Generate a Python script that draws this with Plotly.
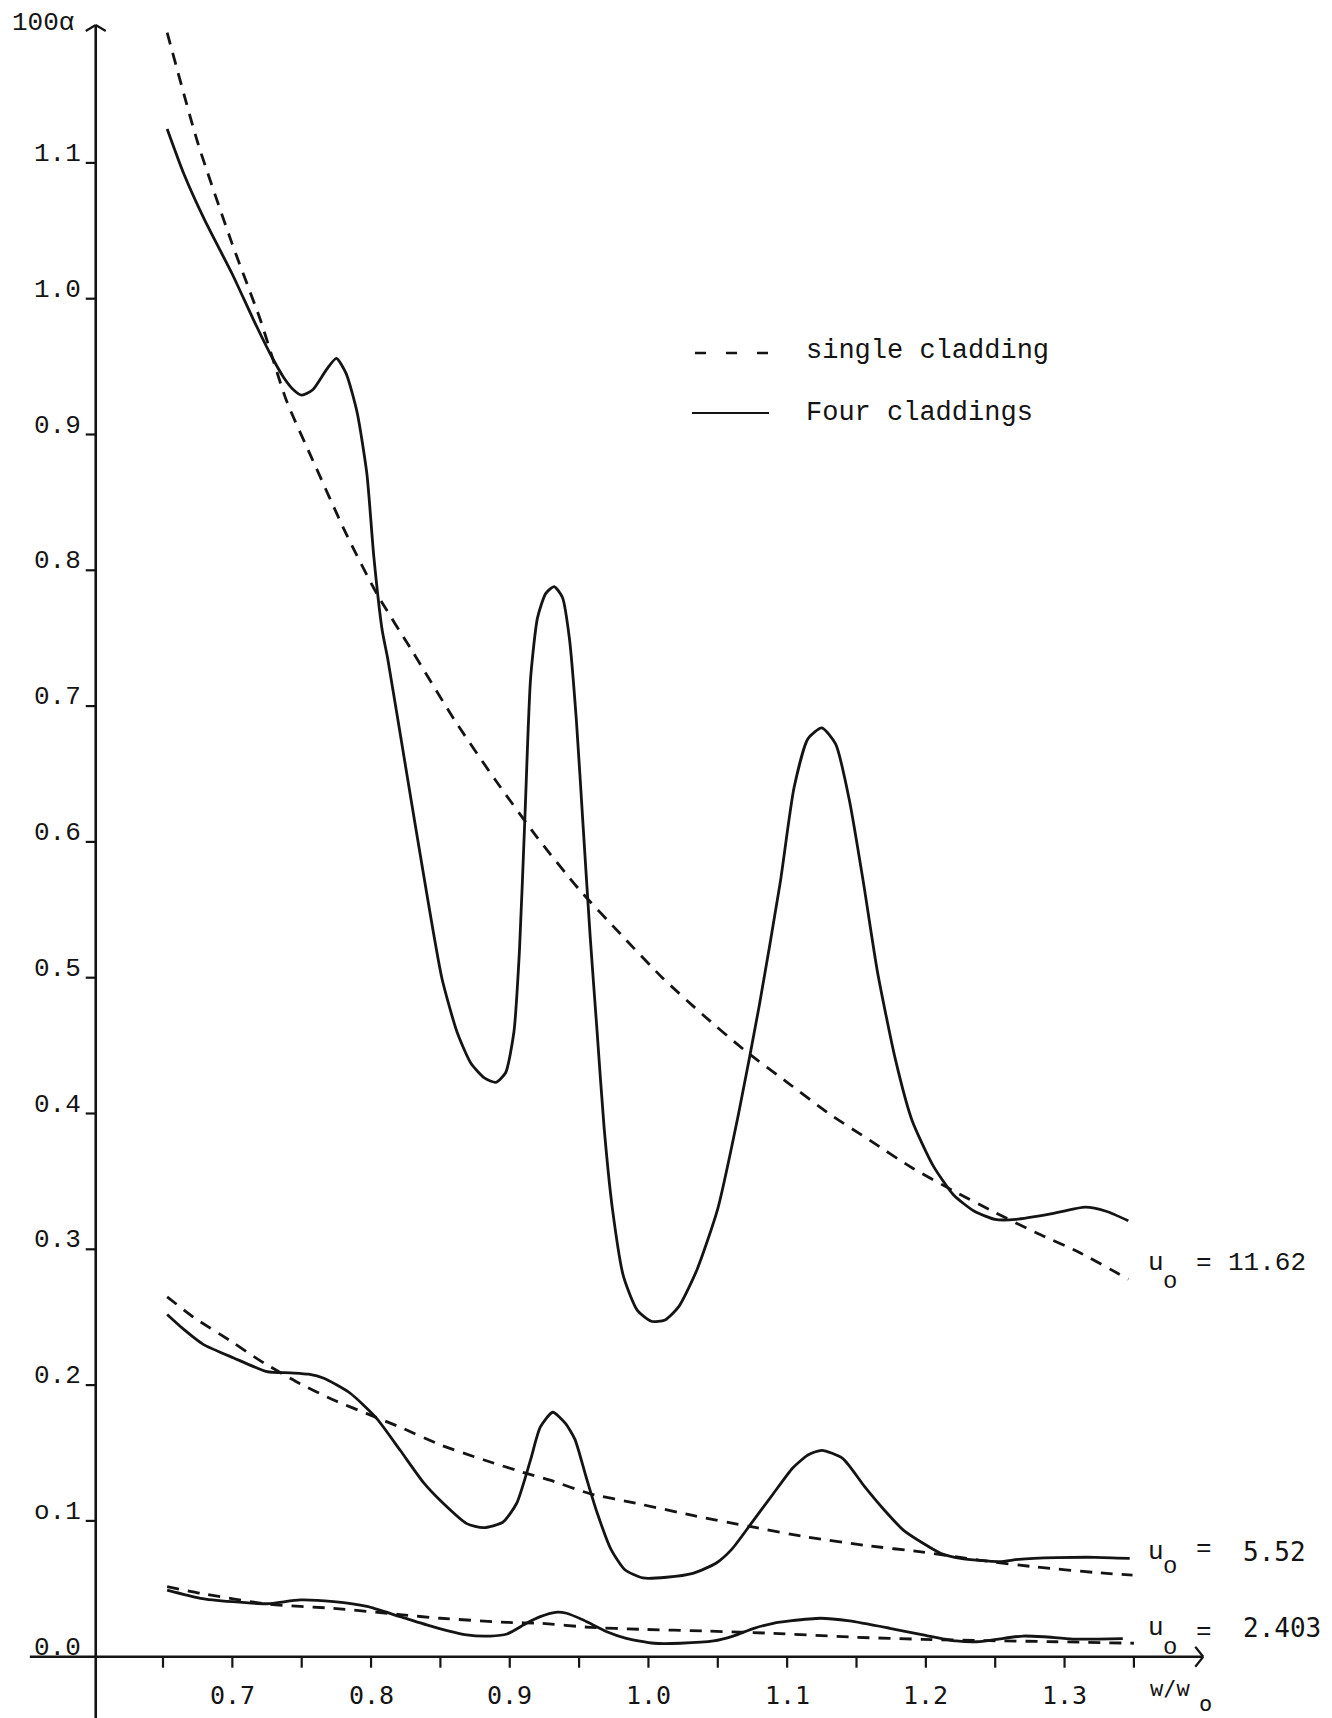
import plotly.graph_objects as go

W, H = 1332, 1718

# ---- data: 100*alpha against w/w0 -------------------------------------
# u0 = 11.62, single cladding
hi_single_x = [0.653, 0.675, 0.700, 0.720, 0.739, 0.758, 0.782, 0.804, 0.830, 0.860,
               0.890, 0.920, 0.950, 0.980, 1.010, 1.040, 1.070, 1.100, 1.130, 1.160,
               1.190, 1.220, 1.250, 1.280, 1.310, 1.346]
hi_single_y = [1.196, 1.115, 1.040, 0.985, 0.925, 0.881, 0.827, 0.783, 0.740, 0.690,
               0.645, 0.603, 0.565, 0.532, 0.500, 0.472, 0.446, 0.423, 0.400, 0.380,
               0.360, 0.343, 0.327, 0.312, 0.298, 0.278]

# u0 = 11.62, four claddings
hi_four_x = [0.653, 0.665, 0.680, 0.700, 0.715, 0.727, 0.737, 0.744, 0.750, 0.758,
             0.768, 0.775, 0.782, 0.790, 0.797, 0.802, 0.808, 0.812, 0.825, 0.838,
             0.851, 0.862, 0.872, 0.882, 0.890, 0.897, 0.903, 0.907, 0.911, 0.915,
             0.920, 0.926, 0.932, 0.938, 0.943, 0.948, 0.953, 0.958, 0.963, 0.968,
             0.974, 0.982, 0.992, 1.002, 1.012, 1.022, 1.035, 1.050, 1.065, 1.080,
             1.095, 1.105, 1.115, 1.125, 1.135, 1.145, 1.155, 1.165, 1.178, 1.190,
             1.205, 1.220, 1.235, 1.250, 1.265, 1.290, 1.315, 1.330, 1.346]
hi_four_y = [1.125, 1.092, 1.058, 1.018, 0.985, 0.960, 0.942, 0.933, 0.929, 0.933,
             0.948, 0.956, 0.945, 0.916, 0.871, 0.810, 0.756, 0.735, 0.655, 0.575,
             0.500, 0.460, 0.437, 0.426, 0.423, 0.430, 0.460, 0.520, 0.620, 0.720,
             0.765, 0.783, 0.788, 0.780, 0.750, 0.690, 0.610, 0.530, 0.460, 0.390,
             0.330, 0.280, 0.255, 0.247, 0.248, 0.258, 0.285, 0.330, 0.400, 0.480,
             0.570, 0.640, 0.676, 0.684, 0.672, 0.630, 0.570, 0.505, 0.440, 0.395,
             0.362, 0.340, 0.328, 0.322, 0.322, 0.326, 0.331, 0.328, 0.321]

# u0 = 5.52, single cladding
mid_single_x = [0.653, 0.672, 0.701, 0.720, 0.749, 0.773, 0.797, 0.821, 0.850, 0.881,
                0.912, 0.929, 0.958, 0.991, 1.032, 1.074, 1.115, 1.156, 1.198, 1.239,
                1.280, 1.322, 1.349]
mid_single_y = [0.265, 0.250, 0.231, 0.218, 0.201, 0.189, 0.179, 0.169, 0.156, 0.145,
                0.135, 0.130, 0.120, 0.113, 0.104, 0.0957, 0.088, 0.082, 0.077, 0.071,
                0.066, 0.062, 0.060]

# u0 = 5.52, four claddings
mid_four_x = [0.653, 0.665, 0.679, 0.701, 0.725, 0.742, 0.755, 0.766, 0.785, 0.804,
              0.821, 0.838, 0.852, 0.869, 0.881, 0.895, 0.905, 0.915, 0.922, 0.931,
              0.940, 0.947, 0.955, 0.963, 0.973, 0.983, 0.996, 1.013, 1.032, 1.049,
              1.060, 1.074, 1.090, 1.104, 1.115, 1.125, 1.140, 1.156, 1.170, 1.184,
              1.198, 1.211, 1.225, 1.253, 1.267, 1.294, 1.322, 1.347]
mid_four_y = [0.252, 0.241, 0.230, 0.220, 0.210, 0.209, 0.208, 0.205, 0.194, 0.1755,
              0.152, 0.128, 0.113, 0.098, 0.095, 0.099, 0.113, 0.145, 0.169, 0.180,
              0.172, 0.160, 0.1325, 0.106, 0.079, 0.064, 0.058, 0.0585, 0.0614, 0.069,
              0.079, 0.098, 0.120, 0.139, 0.1485, 0.152, 0.146, 0.125, 0.108, 0.093,
              0.0835, 0.076, 0.0724, 0.070, 0.0717, 0.0729, 0.0732, 0.0724]

# u0 = 2.403, single cladding
lo_single_x = [0.653, 0.677, 0.725, 0.773, 0.821, 0.850, 0.898, 0.922, 0.958, 0.994,
               1.042, 1.090, 1.150, 1.198, 1.246, 1.294, 1.350]
lo_single_y = [0.0516, 0.0467, 0.0388, 0.0356, 0.031, 0.0283, 0.0253, 0.0246, 0.0216, 0.0202,
               0.0189, 0.0172, 0.0143, 0.0128, 0.0118, 0.011, 0.0099]

# u0 = 2.403, four claddings
lo_four_x = [0.653, 0.677, 0.700, 0.725, 0.749, 0.773, 0.797, 0.821, 0.845, 0.869,
             0.886, 0.898, 0.912, 0.922, 0.933, 0.941, 0.953, 0.970, 0.984, 1.004,
             1.023, 1.047, 1.061, 1.076, 1.090, 1.102, 1.124, 1.145, 1.174, 1.198,
             1.222, 1.237, 1.251, 1.270, 1.285, 1.306, 1.342]
lo_four_y = [0.049, 0.043, 0.0405, 0.039, 0.0418, 0.0405, 0.037, 0.0295, 0.022, 0.016,
             0.0152, 0.0167, 0.0246, 0.0295, 0.0327, 0.032, 0.027, 0.0184, 0.0135, 0.0099,
             0.0099, 0.0116, 0.0152, 0.0209, 0.0246, 0.0263, 0.0283, 0.0263, 0.0209, 0.016,
             0.0116, 0.011, 0.0128, 0.0152, 0.0147, 0.013, 0.0133]

# ---- axes / labels -----------------------------------------------------
x_ticks = [0.65, 0.70, 0.75, 0.80, 0.85, 0.90, 0.95, 1.00, 1.05, 1.10, 1.15, 1.20,
           1.25, 1.30, 1.35]
x_label_vals = [0.7, 0.8, 0.9, 1.0, 1.1, 1.2, 1.3]
x_label_text = ["0.7", "0.8", "0.9", "1.0", "1.1", "1.2", "1.3"]
y_ticks = [0.1, 0.2, 0.3, 0.4, 0.5, 0.6, 0.7, 0.8, 0.9, 1.0, 1.1]
y_label_vals = [0.0, 0.1, 0.2, 0.3, 0.4, 0.5, 0.6, 0.7, 0.8, 0.9, 1.0, 1.1]
y_label_text = ["0.0", "o.1", "0.2", "0.3", "0.4", "0.5", "0.6", "0.7", "0.8", "0.9",
                "1.0", "1.1"]
u0_values = ["11.62", "5.52", "2.403"]

AXIS_X = 0.6015          # where the vertical axis crosses w/w0
Y_AXIS_TOP = 1.2015
X_AXIS_LEFT, X_AXIS_RIGHT = 0.554, 1.400

# pixel frame of the drawing
X0_PIX, X0_VAL, X_SCALE = 163.0, 0.65, 1387.0
Y0_PIX, Y_SCALE = 1656.7, 1358.0
x_range = [X0_VAL - X0_PIX / X_SCALE, X0_VAL + (W - X0_PIX) / X_SCALE]
y_range = [(Y0_PIX - H) / Y_SCALE, Y0_PIX / Y_SCALE]

def dx(p):
    return p / X_SCALE

def dy(p):
    return p / Y_SCALE

def px(p):
    return p / W

def py(p):
    return 1 - p / H

INK = "#141414"
TYPE = "Liberation Mono, Courier New, monospace"
STENCIL = "DejaVu Sans Mono, monospace"
DASH = "12px,9px"

fig = go.Figure()

def curve(xs, ys, dashed):
    fig.add_trace(go.Scatter(
        x=xs, y=ys, mode="lines",
        line=dict(color=INK, width=2.8, dash=DASH if dashed else "solid",
                  shape="spline", smoothing=0.6),
        hoverinfo="skip", showlegend=False))

curve(hi_single_x, hi_single_y, True)
curve(hi_four_x, hi_four_y, False)
curve(mid_single_x, mid_single_y, True)
curve(mid_four_x, mid_four_y, False)
curve(lo_single_x, lo_single_y, True)
curve(lo_four_x, lo_four_y, False)

shapes = []

def seg(x0, y0, x1, y1, width=2.6, dash="solid", ref="data"):
    r = "x" if ref == "data" else "paper"
    s = "y" if ref == "data" else "paper"
    shapes.append(dict(type="line", xref=r, yref=s, x0=x0, y0=y0, x1=x1, y1=y1,
                       line=dict(color=INK, width=width, dash=dash)))

# vertical axis with open arrow head
seg(AXIS_X, y_range[0], AXIS_X, Y_AXIS_TOP)
seg(AXIS_X - dx(10), Y_AXIS_TOP - dy(6), AXIS_X, Y_AXIS_TOP, width=2.2)
seg(AXIS_X, Y_AXIS_TOP, AXIS_X + dx(10), Y_AXIS_TOP - dy(6), width=2.2)
# horizontal axis with arrow head
seg(X_AXIS_LEFT, 0, X_AXIS_RIGHT, 0)
seg(X_AXIS_RIGHT - dx(8), dy(10), X_AXIS_RIGHT, 0, width=2.2)
seg(X_AXIS_RIGHT, 0, X_AXIS_RIGHT - dx(8), -dy(10), width=2.2)

for t in x_ticks:
    seg(t, 0, t, -dy(11), width=2.2)
for t in y_ticks:
    seg(AXIS_X - dx(10), t, AXIS_X, t, width=2.2)

# legend samples
seg(px(695), py(353), px(768), py(353), width=2.4, dash="11px,20px", ref="paper")
seg(px(692), py(413), px(769), py(413), width=2.2, ref="paper")

annotations = []

def text(x, y, s, family=TYPE, size=26, anchor="left", vanchor="middle"):
    annotations.append(dict(x=px(x), y=py(y), xref="paper", yref="paper", text=s,
                            showarrow=False, xanchor=anchor, yanchor=vanchor,
                            font=dict(family=family, size=size, color=INK)))

for v, s in zip(x_label_vals, x_label_text):
    annotations.append(dict(x=v, y=0, xref="x", yref="y", text=s, showarrow=False,
                            yshift=-39, xanchor="center", yanchor="middle",
                            font=dict(family=STENCIL, size=25, color=INK)))
for v, s in zip(y_label_vals, y_label_text):
    annotations.append(dict(x=px(83), y=v, xref="paper", yref="y", text=s,
                            showarrow=False, yshift=9, xanchor="right", yanchor="middle",
                            font=dict(family=TYPE, size=26, color=INK)))

# curve labels: u, subscript o, "=", value  (pixel rows for each curve)
label_rows = [(1263, 1281, 1263, 1226), (1552, 1566, 1549, 1241), (1628, 1647, 1632, 1241)]
for val, (yu, yo, ye, xv) in zip(u0_values, label_rows):
    fam = TYPE if val == "11.62" else STENCIL
    text(1146, yu, "u")
    text(1161, yo, "o", size=24)
    text(1194, ye, "=")
    text(xv, yu, val, family=fam, size=26)

text(10, 23, "100\u03b1")
text(1148, 1688, "w/w", family=STENCIL, size=22)
text(1197, H, "o", family=STENCIL, size=22, vanchor="bottom")
text(804, 351, "single cladding", size=27)
text(804, 413, "Four claddings", size=27)

fig.update_layout(
    width=W, height=H,
    margin=dict(l=0, r=0, t=0, b=0),
    paper_bgcolor="white", plot_bgcolor="white",
    xaxis=dict(range=x_range, showgrid=False, zeroline=False, showticklabels=False,
               ticks="", showline=False, fixedrange=True),
    yaxis=dict(range=y_range, showgrid=False, zeroline=False, showticklabels=False,
               ticks="", showline=False, fixedrange=True),
    shapes=shapes,
    annotations=annotations,
    showlegend=False,
)

fig.write_html("out.html")
